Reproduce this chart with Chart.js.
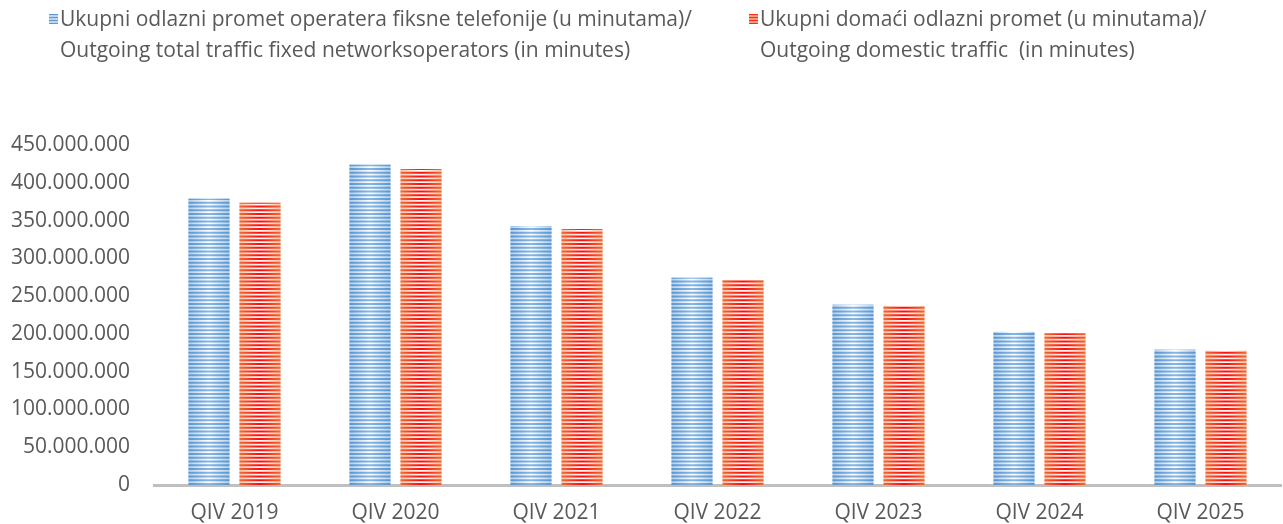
<!DOCTYPE html>
<html>
<head>
<meta charset="utf-8">
<script src="https://cdn.jsdelivr.net/npm/chart.js@4.4.1/dist/chart.umd.min.js"></script>
<style>
  html, body { margin:0; padding:0; background:#fff; }
  #wrap { position:relative; width:1283px; height:524px; font-family:"Open Sans", sans-serif; color:#595959; }
  canvas { position:absolute; left:0; top:0; }
  .lg { position:absolute; top:3px; font-size:21px; line-height:31px; white-space:nowrap; }
  .lg .sw { position:absolute; left:-11px; top:11px; width:9px; height:10px; }
  #lg1 .sw { background:repeating-linear-gradient(to bottom, #5b9bd5 0 1.5px, #bcd6ee 1.5px 3px); }
  #lg2 .sw { background:repeating-linear-gradient(to bottom, #ff2a10 0 1.5px, #f6a080 1.5px 3px); }
</style>
</head>
<body>
<div id="wrap">
  <canvas id="c" width="1283" height="524"></canvas>
  <div class="lg" id="lg1" style="left:60px"><span class="sw"></span>Ukupni odlazni promet operatera fiksne telefonije (u minutama)/<br>Outgoing total traffic fixed networksoperators (in minutes)</div>
  <div class="lg" id="lg2" style="left:760px"><span class="sw"></span>Ukupni domaći odlazni promet (u minutama)/<br>Outgoing domestic traffic&nbsp; (in minutes)</div>
</div>
<script>
const categories = ["QIV 2019","QIV 2020","QIV 2021","QIV 2022","QIV 2023","QIV 2024","QIV 2025"];
const totalTraffic = [378900000, 423900000, 342800000, 274400000, 238600000, 202900000, 179100000];
const domesticTraffic = [373600000, 418200000, 338800000, 271300000, 236900000, 200800000, 177800000];
const yTicks = [0,50000000,100000000,150000000,200000000,250000000,300000000,350000000,400000000,450000000];

function fmt(n){ return Math.round(n).toString().replace(/\B(?=(\d{3})+(?!\d))/g, "."); }

// stripe colours per dataset: [dark edge, dark centre, light edge, light centre]
const stripeCols = [
  ["#5a96d2","#86b6e3","#b3cfea","#ffffff"],
  ["#f06a38","#ff0a0a","#f7c2a8","#ffffff"]
];

const stripes = {
  id:"stripes",
  afterDatasetsDraw(chart){
    const ctx = chart.ctx;
    chart.data.datasets.forEach((ds, di) => {
      const meta = chart.getDatasetMeta(di);
      const c = stripeCols[di];
      meta.data.forEach(el => {
        const l = el.x - el.width/2, r = el.x + el.width/2;
        const top = el.y, bot = el.base;
        const gl = ctx.createLinearGradient(l, 0, r, 0);
        gl.addColorStop(0, c[2]); gl.addColorStop(0.5, c[3]); gl.addColorStop(1, c[2]);
        const gd = ctx.createLinearGradient(l, 0, r, 0);
        gd.addColorStop(0, c[0]); gd.addColorStop(0.5, c[1]); gd.addColorStop(1, c[0]);
        ctx.save();
        ctx.fillStyle = gl;
        ctx.fillRect(l, top, r - l, bot - top);
        ctx.fillStyle = gd;
        for(let y = bot - 2; y > top - 2; y -= 3.75){
          const y0 = Math.max(top, y);
          ctx.fillRect(l, y0, r - l, Math.min(2, y + 2 - y0));
        }
        ctx.restore();
      });
    });
  }
};

new Chart(document.getElementById("c"), {
  type:"bar",
  data:{
    labels: categories,
    datasets:[
      { label:"Ukupni odlazni promet operatera fiksne telefonije (u minutama)/ Outgoing total traffic fixed networksoperators (in minutes)",
        data: totalTraffic, backgroundColor:"rgba(0,0,0,0)", borderWidth:0,
        barPercentage:0.804, categoryPercentage:0.634 },
      { label:"Ukupni domaći odlazni promet (u minutama)/ Outgoing domestic traffic (in minutes)",
        data: domesticTraffic, backgroundColor:"rgba(0,0,0,0)", borderWidth:0,
        barPercentage:0.804, categoryPercentage:0.634 }
    ]
  },
  options:{
    responsive:false,
    animation:false,
    layout:{ padding:{ left:4, right:2, top:145, bottom:0 } },
    plugins:{ legend:{ display:false }, tooltip:{ enabled:false } },
    scales:{
      x:{
        grid:{ display:false, drawTicks:false },
        border:{ display:true, color:"#bfbfbf", width:3 },
        ticks:{ color:"#595959", font:{ family:"Open Sans", size:21 }, padding:15, maxRotation:0 },
        afterFit: s => { s.height = 39; }
      },
      y:{
        min:0, max:450000000,
        grid:{ display:false, drawTicks:false },
        border:{ display:false },
        afterBuildTicks: s => { s.ticks = yTicks.map(v => ({ value:v })); },
        ticks:{ color:"#595959", font:{ family:"Open Sans", size:21 }, padding:24, callback: v => fmt(v) },
        afterFit: s => { s.width = 150; }
      }
    }
  },
  plugins:[stripes]
});
</script>
</body>
</html>
